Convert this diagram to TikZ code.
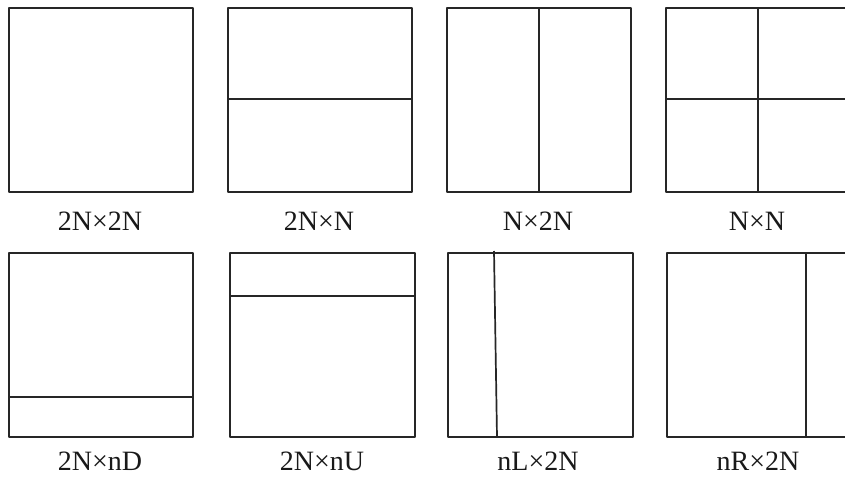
\documentclass[tikz,border=0pt]{standalone}
\usepackage{fontspec}
\setmainfont{Liberation Serif}
\begin{document}
\begin{tikzpicture}[x=1pt,y=-1pt,
  part/.style={draw=black!85,line width=1.7pt,line join=round},
  lbl/.style={font=\fontsize{28}{32}\selectfont,text=black!90,inner sep=0pt,anchor=center}]
\useasboundingbox (0,0) rectangle (845,482);
\fill[white] (0,0) rectangle (845,482);
\clip (0,0) rectangle (845,482);
% row 1
\draw[part] (9,8) rectangle (193,192);
\draw[part] (228,8) rectangle (412,192);
\draw[part] (228,99) -- (412,99);
\draw[part] (447,8) rectangle (631,192);
\draw[part] (539,8) -- (539,192);
\draw[part] (666,8) rectangle (852,192);
\draw[part] (758,8) -- (758,192);
\draw[part] (666,99) -- (852,99);
\node[lbl] (l1) at (100,221) {2N×2N};
\node[lbl] (l2) at (319,221) {2N×N};
\node[lbl] (l3) at (538,221) {N×2N};
\node[lbl] (l4) at (757,221) {N×N};
% row 2
\draw[part] (9,253) rectangle (193,437);
\draw[part] (9,397) -- (193,397);
\draw[part] (230,253) rectangle (415,437);
\draw[part] (230,296) -- (415,296);
\draw[part] (448,253) rectangle (633,437);
\draw[part] (494,251) -- (497,437);
\draw[part] (667,253) rectangle (852,437);
\draw[part] (806,253) -- (806,437);
\node[lbl] (l5) at (100,461) {2N×nD};
\node[lbl] (l6) at (322,461) {2N×nU};
\node[lbl] (l7) at (538,461) {nL×2N};
\node[lbl] (l8) at (758,461) {nR×2N};
\end{tikzpicture}
\end{document}
